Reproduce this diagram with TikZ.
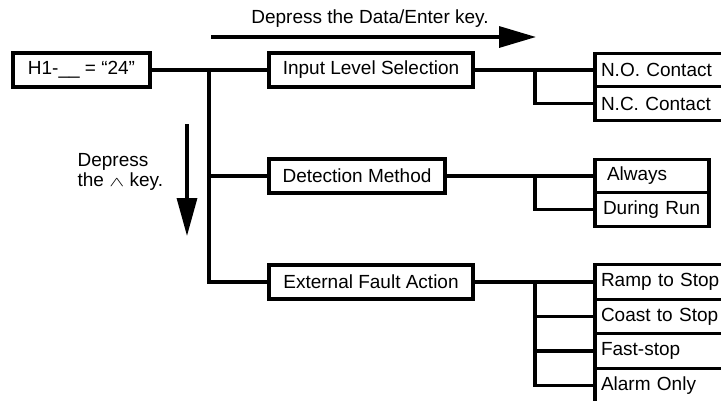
\documentclass[tikz,border=0pt]{standalone}
\usepackage{fontspec}
\setmainfont{Liberation Sans}
\usepackage{tikz}
\usetikzlibrary{positioning, arrows.meta}

\begin{document}
\begin{tikzpicture}[
    x=1pt, y=-1pt,
    font=\fontsize{19}{20}\selectfont,
    line width=3.3pt,
    box/.style={draw, line width=3.3pt, minimum height=34pt, inner sep=0pt, outer sep=0pt, anchor=west},
    optbox/.style={draw, line width=3.3pt, minimum height=33.5pt, inner xsep=6pt, inner ysep=0pt, outer sep=0pt, text width=138pt, align=left, anchor=north west},
    shortbox/.style={optbox, inner xsep=8pt, text width=98pt},
    keyarrow/.style={-{Triangle[length=37pt, width=21pt]}, line width=3.3pt}
]
    \clip (0,0) rectangle (721,400);

    % main setting and the three functions
    \node[box, minimum width=137pt] (h1) at (13,70) {H1-\_\_ = \textquotedblleft 24\textquotedblright};
    \node[box, minimum width=204pt] (inp) at (269,70) {Input Level Selection};
    \node[box, minimum width=176pt] (det) at (269,176) {Detection Method};
    \node[box, minimum width=204pt] (ext) at (269,282) {External Fault Action};

    % choices
    \node[optbox] (no) at (595,53.25) {N.O. Contact};
    \node[optbox, below=0pt of no] (nc) {N.C. Contact};
    \node[shortbox] (alw) at (595,159.25) {\hspace*{4pt}Always};
    \node[shortbox, below=0pt of alw] (run) {During Run};
    \node[optbox, minimum height=34.5pt] (ramp) at (595,264.75) {Ramp to Stop};
    \node[optbox, minimum height=34.5pt, below=0pt of ramp] (coast) {Coast to Stop};
    \node[optbox, minimum height=34.5pt, below=0pt of coast] (fast) {Fast-stop};
    \node[optbox, minimum height=34.5pt, below=0pt of fast] (alarm) {Alarm Only};

    \coordinate (split) at (209,70);
    \coordinate (b1) at (535,70);
    \coordinate (b2) at (535,176);
    \coordinate (b3) at (535,282);

    \draw (h1) -- (inp);
    \draw (split) |- (det.west);
    \draw (split) |- (ext.west);

    \draw (inp.east) -- (no.west);
    \draw (b1) |- (nc.west);
    \draw (det.east) -- (alw.west);
    \draw (b2) |- (run.west);
    \draw (ext.east) -- (ramp.west);
    \draw (b3) |- (coast.west);
    \draw (b3) |- (fast.west);
    \draw (b3) |- (alarm.west);

    % key hints
    \coordinate (rstart) at (211,37);
    \coordinate (rend) at (536,37);
    \coordinate (dstart) at (187,124);
    \coordinate (dend) at (187,236);
    \draw[keyarrow] (rstart) -- (rend);
    \draw[-{Triangle[length=38pt, width=20pt]}, line width=3.3pt] (dstart) -- (dend);
    \node (rtext) at (370,19) {Depress the Data/Enter key.};
    \node[align=left, anchor=west, inner sep=0pt] (dtext) at (76,172) {Depress\\the \scalebox{1.3}[0.8]{$\wedge$} key.};
\end{tikzpicture}
\end{document}
